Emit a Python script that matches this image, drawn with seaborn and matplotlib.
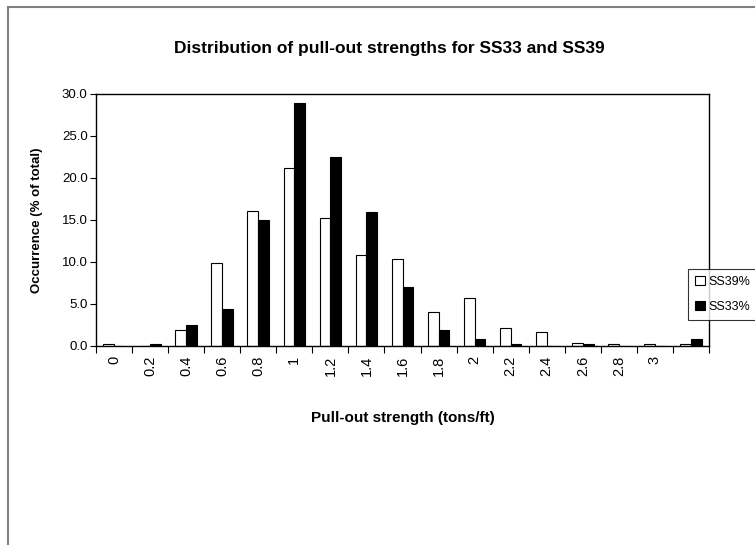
import matplotlib
matplotlib.use("Agg")
import matplotlib.pyplot as plt
from matplotlib.patches import Patch, Rectangle
from matplotlib.ticker import FixedLocator, NullFormatter, FormatStrFormatter
import seaborn as sns
import pandas as pd

categories = ["0", "0.2", "0.4", "0.6", "0.8", "1", "1.2", "1.4", "1.6", "1.8",
              "2", "2.2", "2.4", "2.6", "2.8", "3", ""]
ss39 = [0.2, 0.0, 1.9, 9.9, 16.1, 21.2, 15.2, 10.8, 10.3, 4.0,
        5.7, 2.1, 1.7, 0.4, 0.2, 0.2, 0.2]
ss33 = [0.0, 0.2, 2.5, 4.4, 15.0, 28.9, 22.5, 15.9, 7.0, 1.9,
        0.8, 0.2, 0.0, 0.2, 0.0, 0.0, 0.8]
series_names = ["SS39%", "SS33%"]
yticks = [0, 5, 10, 15, 20, 25, 30]

sns.set_style("white")
plt.rcParams["font.family"] = ["Liberation Sans", "DejaVu Sans"]
plt.rcParams.update({"text.color": "black", "axes.labelcolor": "black",
                     "xtick.color": "black", "ytick.color": "black"})

keys = [f"c{i}" for i in range(len(categories))]
df = pd.DataFrame({
    "key": keys * 2,
    "value": ss39 + ss33,
    "series": [series_names[0]] * len(keys) + [series_names[1]] * len(keys),
})

fig = plt.figure(figsize=(7.55, 5.45), dpi=100)
ax = fig.add_axes([96 / 755, 1 - 346 / 545, (709 - 96) / 755, (346 - 94) / 545])

sns.barplot(data=df, x="key", y="value", hue="series", order=keys,
            hue_order=series_names, palette=["white", "black"],
            edgecolor="black", linewidth=0.8, width=0.6, gap=0,
            legend=False, ax=ax)

ax.set_xlim(-0.5, len(keys) - 0.5)
ax.set_ylim(0, 30)
ax.yaxis.set_major_locator(FixedLocator(yticks))
ax.yaxis.set_major_formatter(FormatStrFormatter("%.1f"))
ax.tick_params(axis="y", which="major", direction="out", length=4, width=0.8,
               labelsize=9.5, left=True, pad=2, color="black",
               labelcolor="black")

bounds = [i - 0.5 for i in range(len(keys) + 1)]
ax.xaxis.set_major_locator(FixedLocator(bounds))
ax.xaxis.set_major_formatter(NullFormatter())
ax.set_xticks(list(range(len(keys))), labels=categories, minor=True)
ax.tick_params(axis="x", which="major", direction="out", length=5, width=0.8,
               bottom=True, color="black")
ax.tick_params(axis="x", which="minor", length=0, labelsize=10.5,
               labelrotation=90, pad=7, labelcolor="black")

for s in ax.spines.values():
    s.set_visible(True)
    s.set_color("black")
    s.set_linewidth(1.0)

ax.set_xlabel("Pull-out strength (tons/ft)", fontsize=11, fontweight="bold",
              color="black")
ax.xaxis.set_label_coords(0.5, (346 - 418) / 252)
ax.xaxis.label.set_va("center")
ax.set_ylabel("Occurrence (% of total)", fontsize=9.5, fontweight="bold",
              color="black")
ax.yaxis.set_label_coords((37 - 96) / 613, 0.5)
ax.yaxis.label.set_va("center")

fig.text(389 / 755, 1 - 48 / 545, "Distribution of pull-out strengths for SS33 and SS39",
         ha="center", va="center", fontsize=12.5, fontweight="bold",
         color="black")

handles = [Patch(facecolor="white", edgecolor="black", linewidth=0.8),
           Patch(facecolor="black", edgecolor="black", linewidth=0.8)]
leg = fig.legend(handles, series_names, loc="upper left",
                 bbox_to_anchor=(688 / 755, 1 - 269 / 545), fontsize=9,
                 frameon=True, fancybox=False, handlelength=0.8,
                 handleheight=0.8, handletextpad=0.3, borderpad=0.55,
                 labelspacing=1.0, borderaxespad=0)
leg.get_frame().set_edgecolor("black")
leg.get_frame().set_linewidth(0.8)
for t in leg.get_texts():
    t.set_color("black")

fig.patches.append(Rectangle((8 / 755, -0.2), 1.2, 1 - 7 / 545 + 0.2,
                             transform=fig.transFigure, fill=False,
                             edgecolor="#808080", linewidth=1.5, zorder=-1))

fig.savefig("out.png", dpi=100, facecolor="white")
